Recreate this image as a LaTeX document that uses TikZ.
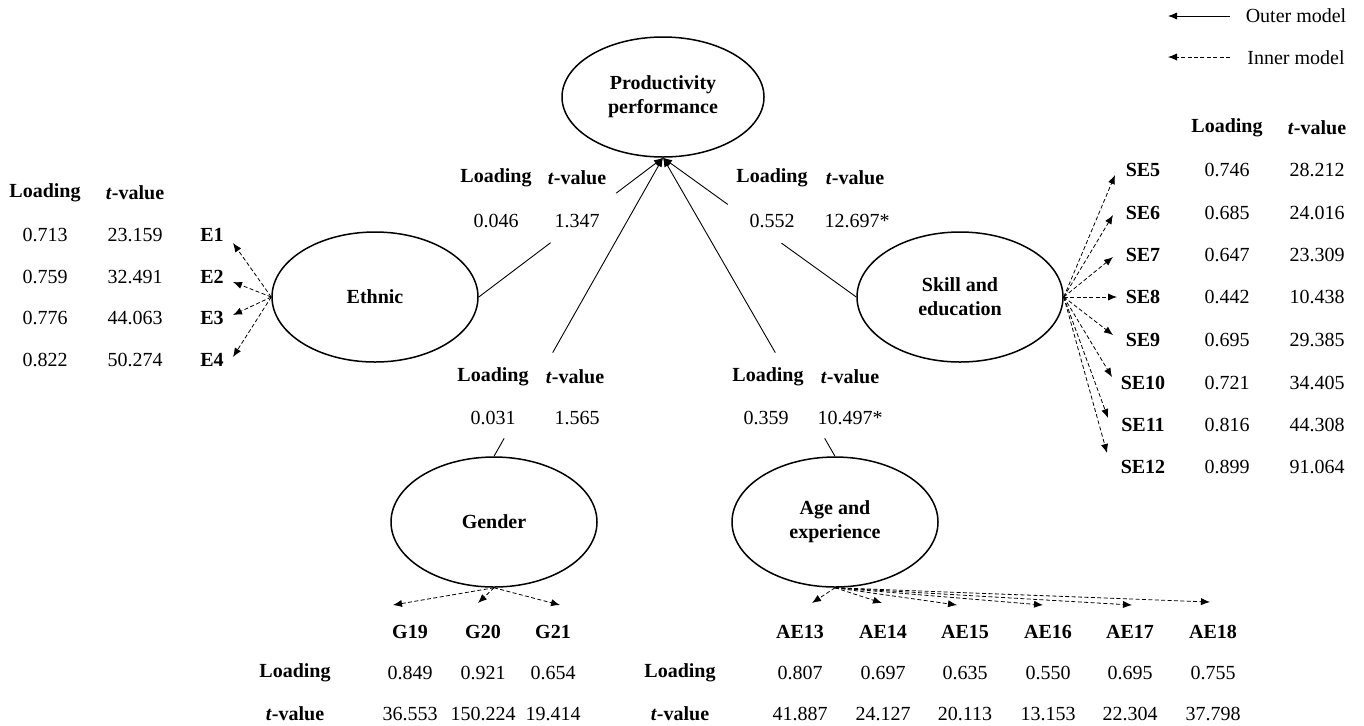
\documentclass[tikz,border=0pt]{standalone}
\usepackage{fontspec}
\setmainfont{Liberation Serif}
\usetikzlibrary{shapes.geometric,arrows.meta,calc}
\newcommand{\tval}{\textbf{\textit{t}-value}}
\begin{document}
\begin{tikzpicture}[x=0.5pt,y=-0.5pt,
  font=\fontsize{10}{12}\selectfont,
  lat/.style={ellipse,draw,line width=0.75pt,minimum width=103pt,minimum height=65pt,inner sep=0pt,align=center,font=\fontsize{10}{12}\selectfont\bfseries},
  txt/.style={inner sep=0pt},
  bx/.style={inner sep=0pt,font=\fontsize{10}{12}\selectfont\bfseries},
  tip/.style={-{Latex[length=4.5pt,width=3.6pt]}},
  solidln/.style={line width=0.45pt},
  dsh/.style={line width=0.4pt,dash pattern=on 2pt off 1.2pt,tip}
]
\useasboundingbox (0,0) rectangle (1364,725);

% latent variables
\node[lat,minimum width=101pt,minimum height=60pt] (prod) at (663,97) {Productivity\\performance};
\node[lat] (eth) at (375,297) {Ethnic};
\node[lat] (skl) at (960,297) {Skill and\\education};
\node[lat] (gen) at (494,522) {Gender};
\node[lat] (age) at (835,522) {Age and\\experience};

% legend
\node[txt] (lgO) at (1296,16) {Outer model};
\node[txt] (lgI) at (1296,58) {Inner model};
\coordinate (o1) at (1230,16); \coordinate (o2) at (1168,16);
\coordinate (i1) at (1230,57); \coordinate (i2) at (1168,57);
\draw[solidln,tip] (o1) -- (o2);
\draw[dsh] (i1) -- (i2);

% path labels
\node[bx] (pLa) at (496,178) {Loading};
\node[bx] (pTa) at (577,178) {\tval};
\node[txt] (pVa) at (496,221) {0.046};
\node[txt] (pWa) at (577,221) {1.347};
\node[bx] (pLb) at (772,178) {Loading};
\node[bx] (pTb) at (855,178) {\tval};
\node[txt] (pVb) at (772,221) {0.552};
\node[txt] (pWb) at (857,221) {12.697*};
\node[bx] (pLc) at (493,377) {Loading};
\node[bx] (pTc) at (575,377) {\tval};
\node[txt] (pVc) at (493,418) {0.031};
\node[txt] (pWc) at (577,418) {1.565};
\node[bx] (pLd) at (768,377) {Loading};
\node[bx] (pTd) at (850,377) {\tval};
\node[txt] (pVd) at (766,418) {0.359};
\node[txt] (pWd) at (850,418) {10.497*};

% structural paths
\draw[solidln] (eth.east) -- ($(eth.east)!0.39!(prod.south)$);
\draw[solidln,tip] ($(eth.east)!0.746!(prod.south)$) -- (prod.south);
\draw[solidln] (skl.west) -- ($(skl.west)!0.387!(prod.south)$);
\draw[solidln,tip] ($(skl.west)!0.665!(prod.south)$) -- (prod.south);
\draw[solidln] (gen.north) -- ($(gen.north)!0.06!(prod.south)$);
\draw[solidln,tip] ($(gen.north)!0.347!(prod.south)$) -- (prod.south);
\draw[solidln] (age.north) -- ($(age.north)!0.06!(prod.south)$);
\draw[solidln,tip] ($(age.north)!0.347!(prod.south)$) -- (prod.south);

% Ethnic indicators
\node[bx] (ehL) at (45,193) {Loading};
\node[bx] (ehT) at (135,193) {\tval};
\foreach \n/\yy/\va/\vb/\ty in {1/235/0.713/23.159/243, 2/277/0.759/32.491/282, 3/318/0.776/44.063/315, 4/360/0.822/50.274/357}{
  \node[txt] (eL\n) at (45,\yy) {\va};
  \node[txt] (eT\n) at (135,\yy) {\vb};
  \node[bx] (E\n) at (212,\yy) {E\n};
  \coordinate (tE\n) at (233,\ty);
  \draw[dsh] (eth.west) -- (tE\n);
}

% Skill indicators
\node[bx] (shL) at (1227,128) {Loading};
\node[bx] (shT) at (1317,128) {\tval};
\foreach \n/\yy/\va/\vb/\tx/\ty in {5/170/0.746/28.212/1115/175, 6/213/0.685/24.016/1113/215, 7/255/0.647/23.309/1113/257, 8/297/0.442/10.438/1117/297, 9/340/0.695/29.385/1113/335, 10/383/0.721/34.405/1112/377, 11/425/0.816/44.308/1108/418, 12/467/0.899/91.064/1107/453}{
  \node[bx] (SE\n) at (1143,\yy) {SE\n};
  \node[txt] (sL\n) at (1227,\yy) {\va};
  \node[txt] (sT\n) at (1317,\yy) {\vb};
  \coordinate (tS\n) at (\tx,\ty);
  \draw[dsh] (skl.east) -- (tS\n);
}

% Gender indicators
\node[bx] (ghL) at (295,673) {Loading};
\node[bx] (ghT) at (295,714) {\tval};
\foreach \n/\xx/\va/\vb/\tx/\ty in {19/410/0.849/36.553/393/605, 20/483/0.921/150.224/478/603, 21/553/0.654/19.414/560/605}{
  \node[bx] (G\n) at (\xx,632) {G\n};
  \node[txt] (gL\n) at (\xx,673) {\va};
  \node[txt] (gT\n) at (\xx,714) {\vb};
  \coordinate (tG\n) at (\tx,\ty);
  \draw[dsh] (gen.south) -- (tG\n);
}

% Age indicators
\node[bx] (ahL) at (680,673) {Loading};
\node[bx] (ahT) at (680,714) {\tval};
\foreach \n/\xx/\va/\vb/\tx/\ty in {13/800/0.807/41.887/812/603, 14/883/0.697/24.127/882/603, 15/965/0.635/20.113/957/605, 16/1048/0.550/13.153/1043/605, 17/1130/0.695/22.304/1132/605, 18/1213/0.755/37.798/1210/602}{
  \node[bx] (AE\n) at (\xx,632) {AE\n};
  \node[txt] (aL\n) at (\xx,673) {\va};
  \node[txt] (aT\n) at (\xx,714) {\vb};
  \coordinate (tA\n) at (\tx,\ty);
  \draw[dsh] (age.south) -- (tA\n);
}
\end{tikzpicture}
\end{document}
